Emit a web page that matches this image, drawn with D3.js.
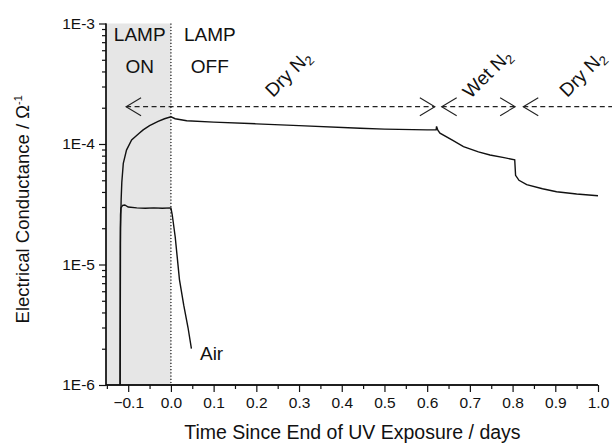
<!DOCTYPE html>
<html>
<head>
<meta charset="utf-8">
<script src="https://cdn.jsdelivr.net/npm/d3@7"></script>
<style>
  body { margin: 0; background: #fff; }
  svg { display: block; font-family: "Liberation Sans", Arial, sans-serif; }
</style>
</head>
<body>
<svg id="chart" width="612" height="444"></svg>
<script>
// upper curve (UV on then dry N2 / wet N2 / dry N2)
const nitrogenTime = [-0.119, -0.118, -0.1165, -0.115, -0.1115, -0.104, -0.092, -0.075, -0.065, -0.05, -0.03, -0.015, 0,
  0.01, 0.037, 0.1, 0.2, 0.3, 0.443, 0.5, 0.6, 0.621, 0.622, 0.625, 0.63, 0.66, 0.685, 0.72, 0.747, 0.78, 0.805,
  0.807, 0.815, 0.833, 0.87, 0.903, 0.95, 1.0];
const nitrogenG = [1e-6, 2e-5, 3.5e-5, 4.8e-5, 6.9e-5, 8.9e-5, 1.08e-4, 1.22e-4, 1.31e-4, 1.42e-4, 1.54e-4, 1.62e-4, 1.68e-4,
  1.62e-4, 1.56e-4, 1.52e-4, 1.47e-4, 1.42e-4, 1.35e-4, 1.33e-4, 1.31e-4, 1.31e-4, 1.40e-4, 1.30e-4, 1.23e-4, 1.07e-4, 9.5e-5, 8.6e-5, 8.1e-5, 7.7e-5, 7.4e-5,
  5.5e-5, 5.0e-5, 4.6e-5, 4.25e-5, 4.02e-5, 3.85e-5, 3.72e-5];

// lower curve (air)
const airTime = [-0.119, -0.1185, -0.118, -0.117, -0.113, -0.108, -0.1, -0.08, -0.06, -0.04, -0.02, 0,
  0.003, 0.01, 0.02, 0.03, 0.04, 0.048];
const airG = [1e-6, 1.5e-5, 2.6e-5, 2.95e-5, 3.1e-5, 3.12e-5, 3.0e-5, 2.95e-5, 2.93e-5, 2.95e-5, 2.93e-5, 2.95e-5,
  2.6e-5, 1.7e-5, 7.5e-6, 4.6e-6, 3.0e-6, 2.0e-6];

const xMajor = [-0.1, 0, 0.1, 0.2, 0.3, 0.4, 0.5, 0.6, 0.7, 0.8, 0.9, 1.0];
const xMinor = [-0.15, -0.05, 0.05, 0.15, 0.25, 0.35, 0.45, 0.55, 0.65, 0.75, 0.85, 0.95];
const yMajor = [1e-6, 1e-5, 1e-4, 1e-3];
const yMajorLabels = ["1E-6", "1E-5", "1E-4", "1E-3"];

// gas periods along the dashed arrow line
const periodStart = [-0.105, 0.634, 0.825];
const periodEnd = [0.618, 0.806, 1.06];
const periodGas = ["Dry", "Wet", "Dry"];
const periodLabelX = [0.274, 0.74, 0.963];
const arrowLevel = 2.04e-4;

const svg = d3.select("#chart");
const margin = { top: 23.5, right: 14, bottom: 59, left: 106 };
const W = 612, H = 444;

const x = d3.scaleLinear().domain([-0.152, 1.0]).range([margin.left, W - margin.right]);
const y = d3.scaleLog().domain([1e-6, 1e-3]).range([H - margin.bottom, margin.top]);
const ink = "#111";

// lamp on shading
svg.append("rect")
  .attr("x", x(-0.152)).attr("y", y(1e-3))
  .attr("width", x(0) - x(-0.152)).attr("height", y(1e-6) - y(1e-3))
  .attr("fill", "#e6e6e6");

svg.append("line")
  .attr("x1", x(0)).attr("x2", x(0))
  .attr("y1", y(1e-3)).attr("y2", y(1e-6))
  .attr("stroke", ink).attr("stroke-width", 1.2)
  .attr("stroke-dasharray", "1.2,2");

// axes
const xAxis = svg.append("g").attr("transform", `translate(0,${y(1e-6)})`);
xAxis.call(d3.axisBottom(x).tickValues(xMajor).tickSize(7).tickPadding(5).tickFormat(d3.format(".1f")));
xAxis.call(g => g.append("g").call(d3.axisBottom(x).tickValues(xMinor).tickSize(4).tickFormat("")));

const yMinor = [];
[1e-6, 1e-5, 1e-4].forEach(d => { for (let k = 2; k <= 9; k++) yMinor.push(d * k); });

const yAxis = svg.append("g").attr("transform", `translate(${x(-0.152)},0)`);
yAxis.call(d3.axisLeft(y).tickValues(yMajor).tickSize(7).tickPadding(4)
  .tickFormat((d, i) => yMajorLabels[i]));
yAxis.call(g => g.append("g").call(d3.axisLeft(y).tickValues(yMinor).tickSize(4).tickFormat("")));

svg.selectAll(".domain").attr("stroke", ink).attr("stroke-width", 1.3);
svg.selectAll(".tick line").attr("stroke", ink).attr("stroke-width", 1.2);
svg.selectAll(".tick text").attr("fill", ink).style("font-size", "15.5px");
yAxis.selectAll(".domain").attr("d", `M0,${y(1e-6)}V${y(1e-3)}`);
xAxis.selectAll(".domain").attr("d", `M${x(-0.152)},0H${x(1.0)}`);

// curves
const line = d3.line().x(d => x(d[0])).y(d => y(d[1]));
svg.append("path")
  .datum(d3.zip(nitrogenTime, nitrogenG))
  .attr("d", line).attr("fill", "none").attr("stroke", ink).attr("stroke-width", 1.4);
svg.append("path")
  .datum(d3.zip(airTime, airG))
  .attr("d", line).attr("fill", "none").attr("stroke", ink).attr("stroke-width", 1.4);

// dashed period arrows
const ay = y(arrowLevel);
periodStart.forEach((s, i) => {
  const x0 = x(s), x1 = x(periodEnd[i]);
  svg.append("line")
    .attr("x1", x0).attr("x2", x1).attr("y1", ay).attr("y2", ay)
    .attr("stroke", "#222").attr("stroke-width", 1.2).attr("stroke-dasharray", "5,3.5");
  svg.append("path")
    .attr("d", `M${x0 + 15},${ay - 9}L${x0},${ay}L${x0 + 15},${ay + 9}`)
    .attr("fill", "none").attr("stroke", "#222").attr("stroke-width", 1.1);
  if (periodEnd[i] <= 1.0) {
    svg.append("path")
      .attr("d", `M${x1 - 15},${ay - 9}L${x1},${ay}L${x1 - 15},${ay + 9}`)
      .attr("fill", "none").attr("stroke", "#222").attr("stroke-width", 1.1);
  }
  const t = svg.append("text")
    .attr("transform", `translate(${x(periodLabelX[i])},${y(3.85e-4)}) rotate(-45)`)
    .attr("text-anchor", "middle").attr("dy", "0.35em")
    .attr("fill", ink).style("font-size", "19px");
  t.append("tspan").text(periodGas[i] + " N");
  t.append("tspan").text("2").attr("dy", "0.3em").style("font-size", "13px");
});

// lamp labels
const lampText = [["LAMP", -0.073, 7.1e-4], ["ON", -0.073, 3.85e-4], ["LAMP", 0.091, 7.1e-4], ["OFF", 0.091, 3.85e-4]];
svg.selectAll(".lamp").data(lampText).enter().append("text")
  .attr("x", d => x(d[1])).attr("y", d => y(d[2]))
  .attr("text-anchor", "middle").attr("fill", ink).style("font-size", "19px")
  .text(d => d[0]);

svg.append("text")
  .attr("x", x(0.068)).attr("y", y(1.62e-6))
  .attr("fill", ink).style("font-size", "19px").text("Air");

// axis titles
svg.append("text")
  .attr("x", x(0.425)).attr("y", 439)
  .attr("text-anchor", "middle").attr("fill", ink).style("font-size", "19.5px")
  .text("Time Since End of UV Exposure / days");

const yt = svg.append("text")
  .attr("transform", `translate(29,${(y(1e-6) + y(1e-3)) / 2 + 5}) rotate(-90)`)
  .attr("text-anchor", "middle").attr("fill", ink).style("font-size", "18.5px");
yt.append("tspan").text("Electrical Conductance / Ω");
yt.append("tspan").text("-1").attr("dy", "-0.6em").style("font-size", "11px");
</script>
</body>
</html>
